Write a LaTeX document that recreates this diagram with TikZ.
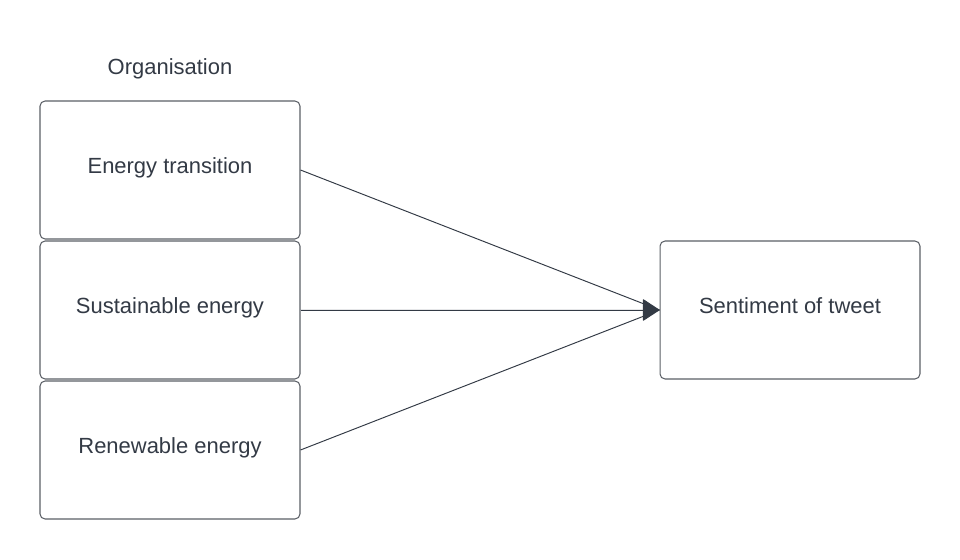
\documentclass[tikz,border=0pt]{standalone}
\usepackage{fontspec}
\setmainfont{Liberation Sans}
\usepackage{xcolor}
\definecolor{ink}{HTML}{333A45}
\definecolor{frame}{HTML}{5B5F66}
\usepackage{tikz}
\usetikzlibrary{arrows.meta, positioning}

\begin{document}
\begin{tikzpicture}[x=0.02cm, y=-0.02cm,
  box/.style={draw=frame, line width=0.6pt, rounded corners=0.1cm, minimum width=5.2cm, minimum height=2.76cm, text=ink, text depth=5pt, font=\fontsize{12.5}{15}\selectfont},
  link/.style={draw=ink, line width=0.55pt}]
  % Page frame
  \useasboundingbox (0,0) rectangle (960,560);

  % Title above the left column
  \node[text=ink, font=\fontsize{12.5}{15}\selectfont] (title) at (170,69) {Organisation};

  % Left column
  \node[box] (trans) at (170,170) {Energy transition};
  \node[box] (sust) at (170,310) {Sustainable energy};
  \node[box] (renew) at (170,450) {Renewable energy};

  % Outcome
  \node[box] (sent) at (790,310) {Sentiment of tweet};

  % Connectors
  \draw[link] (trans.east) -- (sent.west);
  \draw[link] (renew.east) -- (sent.west);
  \draw[link, -{Triangle[length=0.34cm, width=0.44cm, round]}, fill=ink] (sust.east) -- (sent.west);
\end{tikzpicture}
\end{document}
